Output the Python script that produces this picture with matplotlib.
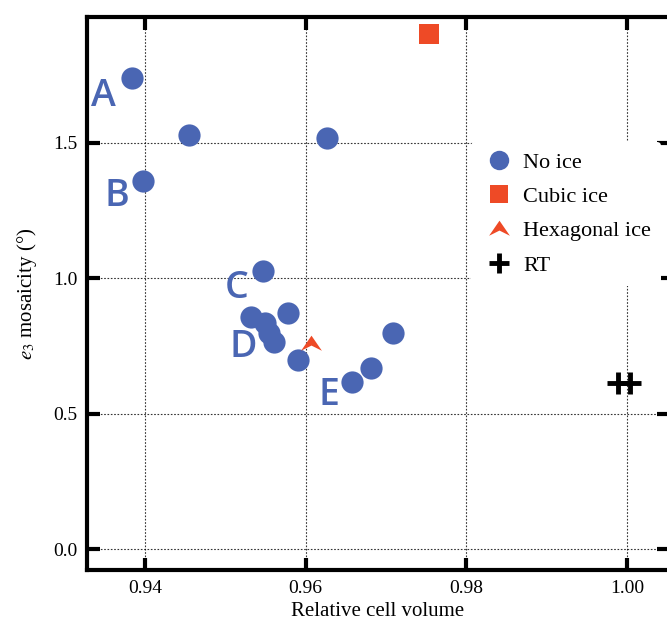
import numpy as np
import matplotlib
matplotlib.use('Agg')
import matplotlib.pyplot as plt
from matplotlib.path import Path
from matplotlib.lines import Line2D

plt.rcParams['font.family'] = ['Liberation Serif', 'DejaVu Serif']
plt.rcParams['mathtext.fontset'] = 'stix'

# data
noice_x = [0.9384, 0.9455, 0.9626, 0.9398, 0.9547, 0.9532, 0.9550, 0.9555,
           0.9561, 0.9578, 0.9590, 0.9658, 0.9681, 0.9709]
noice_y = [1.739, 1.529, 1.518, 1.360, 1.028, 0.855, 0.836, 0.796,
           0.763, 0.873, 0.696, 0.615, 0.667, 0.796]
cubic_x = [0.9753]
cubic_y = [1.901]
hex_x = [0.9607]
hex_y = [0.759]
rt_x = [0.9989, 1.0004]
rt_y = [0.612, 0.612]

labels = ['A', 'B', 'C', 'D', 'E']
label_x = [0.9349, 0.9365, 0.9514, 0.9522, 0.9629]
label_y = [1.673, 1.304, 0.965, 0.744, 0.567]

blue = '#4A66B3'
red = '#EE4A26'

# arrowhead marker for hexagonal ice
hex_marker = Path([(0, 0.75), (1.0, -0.7), (0, -0.2), (-1.0, -0.7), (0, 0.75)],
                  [Path.MOVETO, Path.LINETO, Path.LINETO, Path.LINETO, Path.CLOSEPOLY])

fig = plt.figure(figsize=(6.67, 6.25), dpi=100)
ax = fig.add_axes([0.1304, 0.088, 0.8726, 0.8848])

ax.plot(noice_x, noice_y, 'o', color=blue, markersize=16, markeredgewidth=0, zorder=3)
ax.plot(cubic_x, cubic_y, 's', color=red, markersize=15, markeredgewidth=0, zorder=3)
ax.plot(hex_x, hex_y, marker=hex_marker, linestyle='none', color=red,
        markersize=15, markeredgewidth=0, zorder=3)
ax.plot(rt_x, rt_y, '+', color='black', markersize=16, markeredgewidth=3.5, zorder=3)

for t, x, y in zip(labels, label_x, label_y):
    ax.text(x, y, t, color=blue, fontsize=27, family=['Open Sans', 'DejaVu Sans'],
            fontweight='semibold', ha='center', va='center', zorder=4)

ax.set_xlim(0.9328, 1.0052)
ax.set_ylim(-0.0774, 1.964)
ax.set_xticks([0.94, 0.96, 0.98, 1.00])
ax.set_yticks([0.0, 0.5, 1.0, 1.5])
ax.set_xticklabels(['0.94', '0.96', '0.98', '1.00'])
ax.set_yticklabels(['0.0', '0.5', '1.0', '1.5'])
ax.tick_params(direction='in', length=9, width=3, top=True, right=True,
               labelsize=14, pad=7)
for s in ax.spines.values():
    s.set_linewidth(3)
ax.grid(True, color='black', linestyle=(0, (1.5, 1.5)), linewidth=0.8, alpha=0.8)
ax.set_axisbelow(True)

ax.set_xlabel('Relative cell volume', fontsize=15, labelpad=4)
ax.set_ylabel(r'$e_3$ mosaicity (°)', fontsize=15, labelpad=10)

handles = [
    Line2D([], [], marker='o', color=blue, linestyle='none', markersize=14, markeredgewidth=0),
    Line2D([], [], marker='s', color=red, linestyle='none', markersize=13, markeredgewidth=0),
    Line2D([], [], marker=hex_marker, color=red, linestyle='none', markersize=15, markeredgewidth=0),
    Line2D([], [], marker='+', color='black', linestyle='none', markersize=15, markeredgewidth=3.5),
]
leg = ax.legend(handles, ['No ice', 'Cubic ice', 'Hexagonal ice', 'RT'],
                loc='upper left', bbox_to_anchor=(0.641, 0.794), frameon=True,
                fontsize=16, handletextpad=0.3, labelspacing=0.62,
                borderpad=0.45, handlelength=1.6)
leg.get_frame().set_linewidth(0)
leg.get_frame().set_facecolor('white')
leg.get_frame().set_alpha(1)

fig.savefig('out.png', dpi=100)
